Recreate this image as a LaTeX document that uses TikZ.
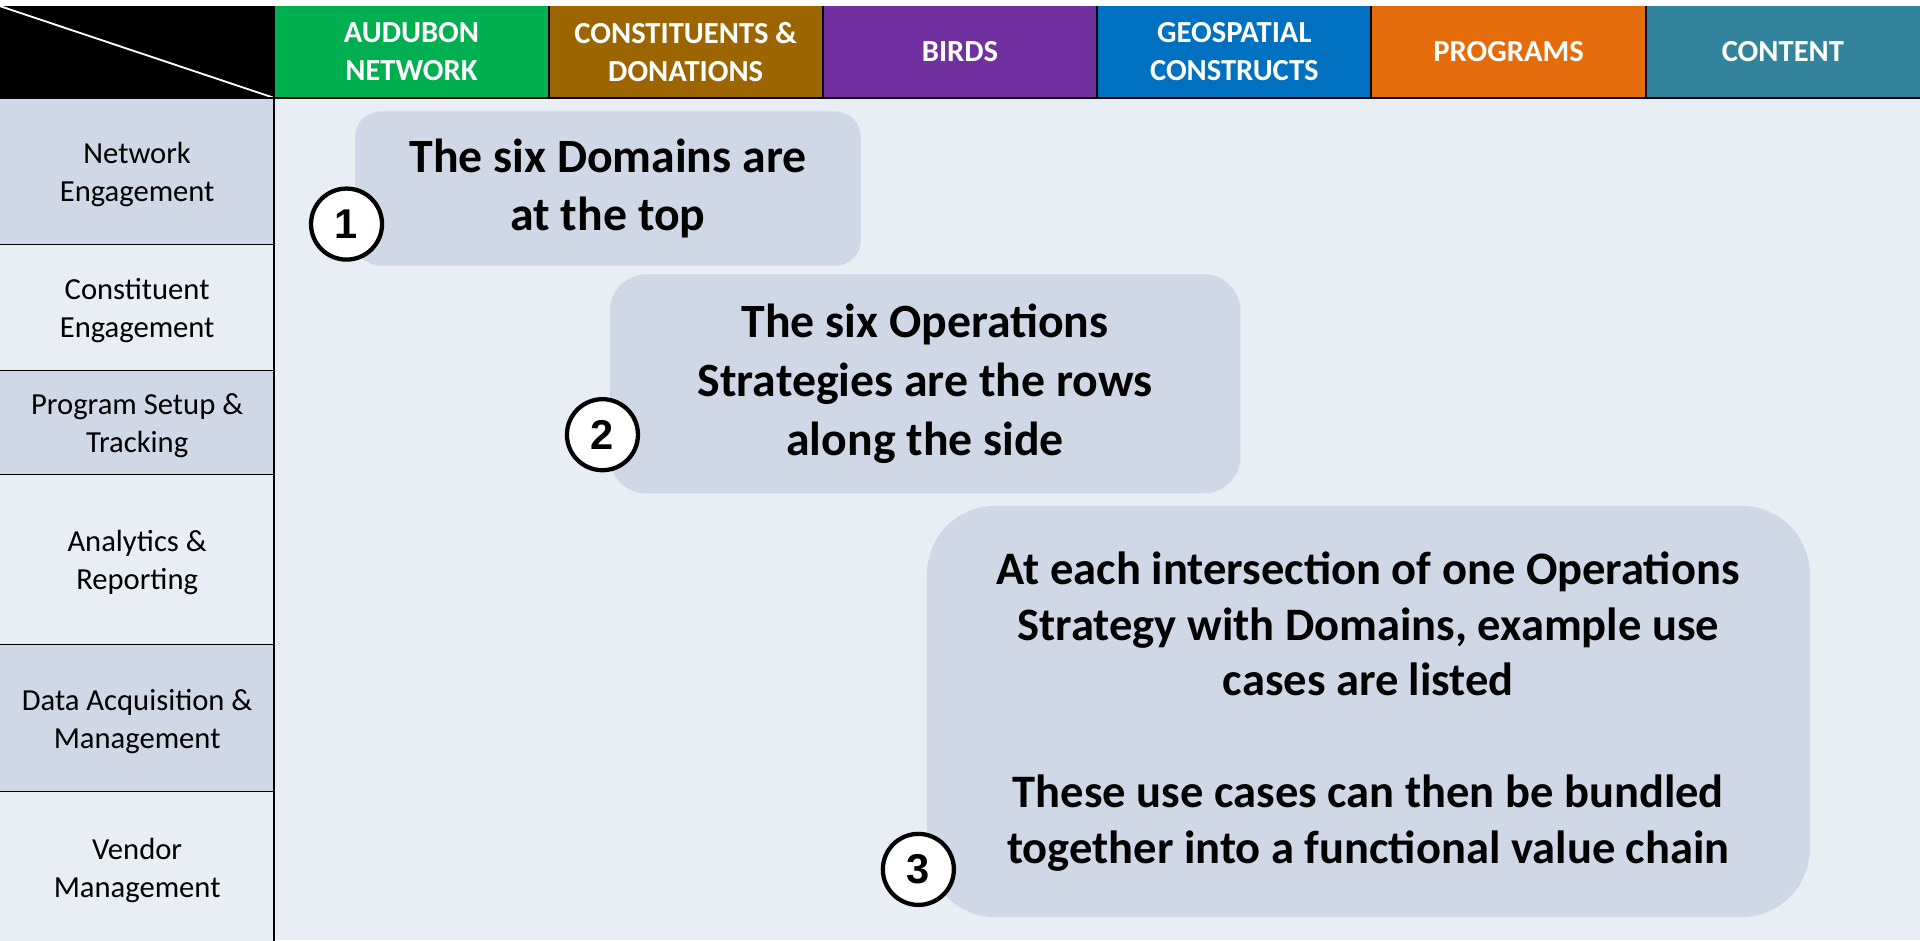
\documentclass[tikz,border=0pt]{standalone}
\usepackage{fontspec}
\setmainfont{Carlito}
\newfontfamily\numfont{Liberation Sans}
\usetikzlibrary{positioning}

\definecolor{cAudubon}{HTML}{00B050}
\definecolor{cConstit}{HTML}{9C6500}
\definecolor{cBirds}{HTML}{7030A0}
\definecolor{cGeo}{HTML}{0070C0}
\definecolor{cProg}{HTML}{E46C0A}
\definecolor{cContent}{HTML}{31849B}
\definecolor{cLight}{HTML}{E9EDF4}
\definecolor{cDark}{HTML}{D0D7E6}

\tikzset{
  hdrcell/.style={inner sep=0pt, outer sep=0pt,
    minimum width=224, minimum height=75, align=center, text=white,
    font=\fontsize{25}{31}\selectfont\bfseries},
  rowcell/.style={inner sep=0pt, outer sep=0pt, text depth=-2pt,
    minimum width=224, align=center, font=\fontsize{25}{31}\selectfont},
  gridline/.style={black, line width=1.6pt},
  callout/.style={fill=cDark, inner sep=0pt, align=center,
    font=\fontsize{39}{48}\selectfont\bfseries},
  numcirc/.style={circle, draw=black, fill=white, line width=3.5pt,
    minimum size=58, inner sep=0pt, font=\fontsize{34}{34}\numfont\bfseries}
}

\begin{document}
\begin{tikzpicture}[x=1pt,y=-1pt]
  \useasboundingbox (0,0) rectangle (1568,768);
  \fill[white] (0,0) rectangle (1568,768);
  \fill[cLight] (224,80) rectangle (1568,768);

  % corner cell
  \node[hdrcell, fill=black] (corner) at (112,42.5) {};
  \draw[white, line width=1.5pt] (corner.north west) -- (corner.south east);

  % the six domains
  \foreach \i/\nm/\col/\txt in {
      1/audubon/cAudubon/{AUDUBON\\NETWORK},
      2/constit/cConstit/{CONSTITUENTS \&\\DONATIONS},
      3/birds/cBirds/{BIRDS},
      4/geo/cGeo/{GEOSPATIAL\\CONSTRUCTS},
      5/programs/cProg/{PROGRAMS},
      6/content/cContent/{CONTENT}}{
    \node[hdrcell, fill=\col] (\nm) at ({224*\i+112},42.5) {\txt};
    \draw[gridline] (\nm.north west) -- (\nm.south west);}

  % the six operations strategies
  \foreach \nm/\top/\bot/\col/\txt in {
      network/80/200/cDark/{Network\\Engagement},
      constituent/200/303/cLight/{Constituent\\Engagement},
      setup/303/388/cDark/{Program Setup \&\\Tracking},
      analytics/388/527/cLight/{Analytics \&\\Reporting},
      acquisition/527/647/cDark/{Data Acquisition \&\\Management},
      vendor/647/770/cLight/{Vendor\\Management}}{
    \node[rowcell, fill=\col, minimum height={\bot-\top}] (\nm) at (112,{(\top+\bot)/2}) {\txt};
    \draw[gridline] (\nm.south west) -- (\nm.south east);}

  \draw[gridline] (corner.south west) -- (content.south east);
  \draw[gridline] (network.north east) -- (vendor.south east);

  % callouts
  \node[callout, rounded corners=21, minimum width=413, minimum height=126]
    (box1) at (496.5,154) {The six Domains are\\at the top};
  \node[callout, rounded corners=30, minimum width=515, minimum height=179]
    (box2) at (755.5,313.5) {The six Operations\\Strategies are the rows\\along the side};
  \node[callout, rounded corners=56, minimum width=721, minimum height=336,
    font=\fontsize{38}{45.5}\selectfont\bfseries]
    (box3) at (1117.5,581) {At each intersection of one Operations\\Strategy with Domains, example use\\cases are listed\\[45.5pt]These use cases can then be bundled\\together into a functional value chain};

  \node[numcirc] (num1) at (283,183) {1};
  \node[numcirc] (num2) at (492,355) {2};
  \node[numcirc] (num3) at (750,710) {3};
\end{tikzpicture}
\end{document}
